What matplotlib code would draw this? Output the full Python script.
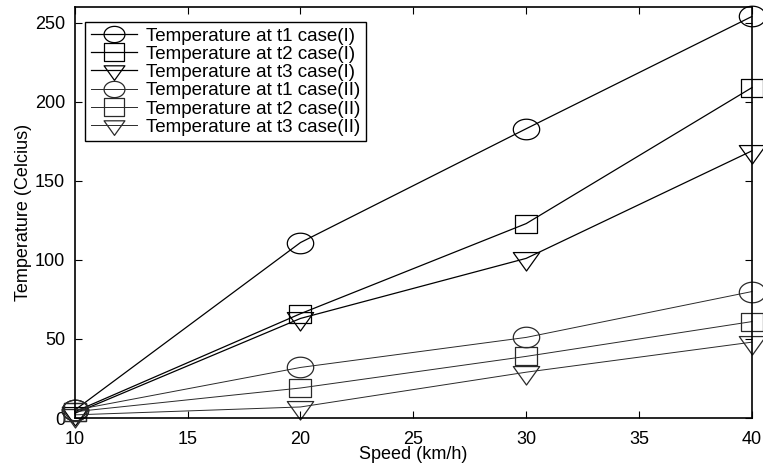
import matplotlib
matplotlib.use("Agg")
import matplotlib.pyplot as plt
import numpy as np
from matplotlib.path import Path

speed = [10, 20, 30, 40]
t1_case1 = [5, 111, 183, 254]
t2_case1 = [4, 66, 123, 209]
t3_case1 = [3, 63, 101, 169]
t1_case2 = [5, 32, 51, 80]
t2_case2 = [4, 19, 39, 61]
t3_case2 = [2, 7, 29, 48]
labels = ["Temperature at t1 case(I)", "Temperature at t2 case(I)",
          "Temperature at t3 case(I)", "Temperature at t1 case(II)",
          "Temperature at t2 case(II)", "Temperature at t3 case(II)"]

plt.rcParams['font.family'] = ['Liberation Sans', 'DejaVu Sans']

# Slightly flattened open markers (as in the reference)
th = np.linspace(0, 2 * np.pi, 60)
ellipse = Path(np.column_stack([np.cos(th), 0.78 * np.sin(th)]), closed=True)
rect = Path([(-1, -0.85), (1, -0.85), (1, 0.85), (-1, 0.85), (-1, -0.85)], closed=True)
tri = Path([(-1, 0.45), (1, 0.45), (0, -0.95), (-1, 0.45)], closed=True)

fig = plt.figure(figsize=(7.63, 4.65), dpi=100)
ax = fig.add_axes([0.098, 0.101, 0.8875, 0.884])

series = [t1_case1, t2_case1, t3_case1, t1_case2, t2_case2, t3_case2]
markers = [ellipse, rect, tri, ellipse, rect, tri]
sizes = [19, 16, 19, 19, 16, 19]
colors = ['black', 'black', 'black', '#2a2a2a', '#2a2a2a', '#2a2a2a']
widths = [0.9, 0.9, 0.9, 0.7, 0.7, 0.7]
for s, m, ms, c, lw, lab in zip(series, markers, sizes, colors, widths, labels):
    ax.plot(speed, s, marker=m, markersize=ms, markerfacecolor='none',
            markeredgecolor=c, markeredgewidth=0.9, color=c, lw=lw, label=lab,
            clip_on=False)

ax.set_xlim(10, 40)
ax.set_ylim(0, 260)
ax.set_xticks([10, 15, 20, 25, 30, 35, 40])
ax.set_yticks([0, 50, 100, 150, 200, 250])
ax.tick_params(direction='in', top=True, right=True, labelsize=13, length=5)
ax.tick_params(axis='x', pad=9)
ax.tick_params(axis='y', pad=7)
for sp in ax.spines.values():
    sp.set_linewidth(1.2)
ax.set_xlabel("Speed (km/h)", fontsize=13, labelpad=-1)
ax.set_ylabel("Temperature (Celcius)", fontsize=13, labelpad=2)

leg = ax.legend(loc='upper left', bbox_to_anchor=(0.015, 0.964), fontsize=13.5,
                frameon=True, fancybox=False, edgecolor='black', framealpha=1,
                handlelength=2.5, labelspacing=0.06, borderpad=0.3,
                handletextpad=0.45, borderaxespad=0)
leg.get_frame().set_linewidth(1.0)
for h in leg.legend_handles:
    h.set_markersize(15)

fig.savefig("out.png", dpi=100)
